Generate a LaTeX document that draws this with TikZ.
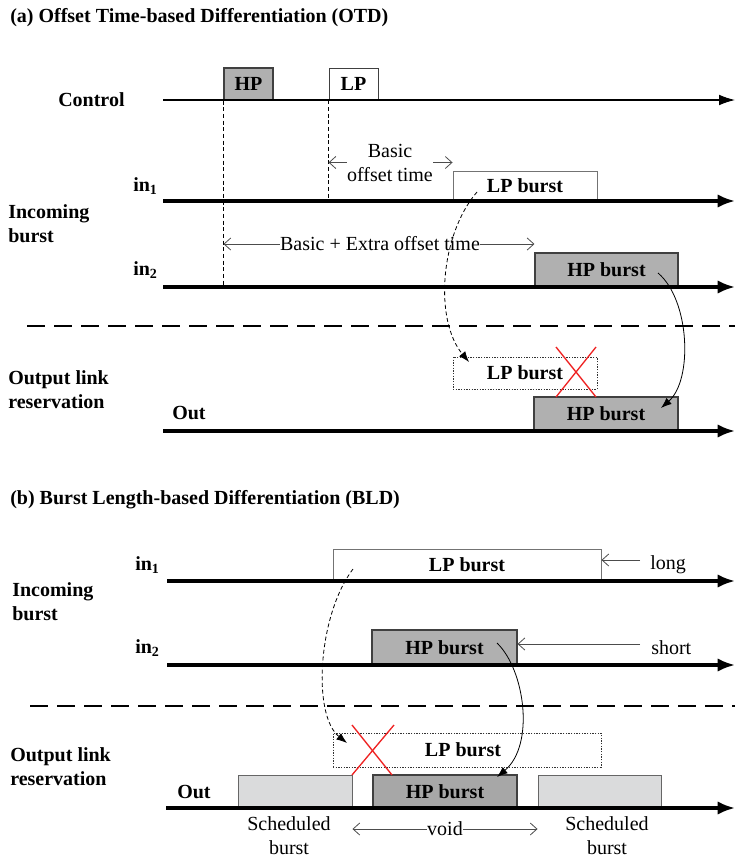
\documentclass[tikz,border=0pt]{standalone}
\usepackage{fontspec}
\setmainfont{Liberation Serif}
\usetikzlibrary{arrows.meta}
\definecolor{hpgray}{HTML}{B0B0B0}
\definecolor{schgray}{HTML}{DADBDC}
\definecolor{redx}{HTML}{EE2222}
\begin{document}
\begin{tikzpicture}[x=0.75pt,y=-0.75pt,
  every node/.style={font=\fontsize{15}{18}\selectfont, inner sep=0pt},
  lbl/.style={font=\fontsize{15}{18}\selectfont\bfseries, anchor=west, align=left},
  txt/.style={font=\fontsize{15}{18}\selectfont, align=center},
  timeline/.style={line width=2.3pt, -{Latex[length=13pt,width=10pt]}},
  ctrlline/.style={line width=0.8pt, -{Latex[length=12pt,width=8pt]}},
  hpbox/.style={draw=black!75, fill=hpgray, line width=0.8pt, font=\fontsize{15}{18}\selectfont\bfseries},
  lpbox/.style={draw=black!55, fill=white, line width=0.7pt, font=\fontsize{15}{18}\selectfont\bfseries},
  schbox/.style={draw=black!60, fill=schgray, line width=0.7pt},
  dotbox/.style={draw=black!80, dash pattern=on 1pt off 1pt, line width=0.6pt, font=\fontsize{15}{18}\selectfont\bfseries},
  vdash/.style={draw=black, line width=0.7pt, dash pattern=on 3pt off 2pt},
  sep/.style={draw=black, line width=1.5pt, dash pattern=on 13.5pt off 6.75pt},
  dim/.style={draw=black!70, line width=0.6pt, -{Straight Barb[length=5pt,width=9pt]}},
  curvearr/.style={line width=0.6pt, -{Latex[length=8pt,width=6pt]}},
  xline/.style={draw=redx, line width=1pt}
]
\useasboundingbox (0,0) rectangle (735,860);

% ================= (a) =================
\node[lbl] (tA) at (10,18) {(a) Offset Time-based Differentiation (OTD)};

\node[lbl] (lControl) at (58,100) {Control};
\node[lbl] (lin1a) at (133,186) {in\textsubscript{1}};
\node[lbl] (lin2a) at (133,270) {in\textsubscript{2}};
\node[lbl] (lIncA) at (8,224) {Incoming\\burst};
\node[lbl] (lOutLA) at (8,390) {Output link\\reservation};
\node[lbl] (lOutA) at (172,413) {Out};

% timelines
\coordinate (ctrlS) at (163,100); \coordinate (ctrlE) at (735,100);
\coordinate (in1aS) at (163,201); \coordinate (in1aE) at (735,201);
\coordinate (in2aS) at (163,287); \coordinate (in2aE) at (735,287);
\coordinate (outaS) at (163,431); \coordinate (outaE) at (735,431);

% boxes
\node[hpbox, minimum width=36.75pt, minimum height=24pt] (hpc) at (248.5,84) {HP};
\node[lpbox, draw=black!75, minimum width=36.75pt, minimum height=24pt] (lpc) at (353.5,84) {LP};
\node[lpbox, minimum width=108pt, minimum height=22.5pt] (lpa) at (525,186) {LP burst};
\node[hpbox, minimum width=107.25pt, minimum height=25.5pt] (hpa) at (606.5,270) {HP burst};
\node[dotbox, minimum width=108pt, minimum height=24pt] (lpoa) at (525,373) {LP burst};
\node[hpbox, minimum width=108pt, minimum height=25.5pt] (hpoa) at (606,414) {HP burst};

\draw[ctrlline] (ctrlS) -- (ctrlE);
\draw[timeline] (in1aS) -- (in1aE);
\draw[timeline] (in2aS) -- (in2aE);
\draw[timeline] (outaS) -- (outaE);

% dashed verticals
\draw[vdash] (hpc.south west) -- (hpc.south west |- in2aS);
\draw[vdash] (lpc.south west) -- (lpc.south west |- in1aS);

% offset labels
\node[txt] (basic) at (390,162.5) {Basic\\offset time};
\draw[dim] (basic.west) -- (basic.west -| lpc.west);
\draw[dim] (basic.east) -- (basic.east -| lpa.west);

\node[txt] (extra) at (380,244) {Basic + Extra offset time};
\draw[dim] (extra.west) -- (extra.west -| hpc.west);
\draw[dim] (extra.east) -- (extra.east -| hpa.west);

% separator
\coordinate (sepaS) at (27,326); \coordinate (sepaE) at (735,326);
\draw[sep] (sepaS) -- (sepaE);

% curves
\coordinate (la1) at (477,192); \coordinate (la2) at (469,362);
\draw[curvearr, dash pattern=on 3pt off 2pt] (la1) .. controls (440,235) and (434,320) .. (la2);
\coordinate (ha1) at (658,273); \coordinate (ha2) at (661,408);
\draw[curvearr] (ha1) .. controls (690,300) and (693,380) .. (ha2);

% red X
\coordinate (xa1) at (556,347); \coordinate (xa2) at (596,397);
\coordinate (xa3) at (596,347); \coordinate (xa4) at (556,397);
\draw[xline] (xa1) -- (xa2);
\draw[xline] (xa3) -- (xa4);

% ================= (b) =================
\node[lbl] (tB) at (10,500) {(b) Burst Length-based Differentiation (BLD)};

\node[lbl] (lin1b) at (135,565) {in\textsubscript{1}};
\node[lbl] (lin2b) at (135,648) {in\textsubscript{2}};
\node[lbl] (lIncB) at (12,601.5) {Incoming\\burst};
\node[lbl] (lOutLB) at (10,766.5) {Output link\\reservation};
\node[lbl] (lOutB) at (177,792) {Out};

\coordinate (in1bS) at (167,581); \coordinate (in1bE) at (735,581);
\coordinate (in2bS) at (167,665); \coordinate (in2bE) at (735,665);
\coordinate (outbS) at (166,808); \coordinate (outbE) at (735,808);

\node[lpbox, minimum width=201pt, minimum height=24pt] (lpb) at (467,565) {LP burst};
\node[hpbox, minimum width=108.75pt, minimum height=26.25pt] (hpb) at (444.5,647.5) {HP burst};
\node[dotbox, minimum width=201pt, minimum height=25.5pt] (lpob) at (467,750) {\hspace*{-6pt}LP burst};
\node[schbox, minimum width=85.5pt, minimum height=24.75pt] (sch1) at (295,791.5) {};
\node[hpbox, fill=hpgray!95!black, minimum width=108pt, minimum height=24.75pt] (hpob) at (445,791.5) {HP burst};
\node[schbox, minimum width=92.25pt, minimum height=24.75pt] (sch2) at (599.5,791.5) {};

\draw[timeline] (in1bS) -- (in1bE);
\draw[timeline] (in2bS) -- (in2bE);
\draw[timeline] (outbS) -- (outbE);

% long / short
\node[txt, anchor=west] (long) at (650,565) {long};
\coordinate (longS) at (640,560);
\draw[dim] (longS) -- (longS -| lpb.east);
\node[txt, anchor=west] (short) at (651,648) {short};
\coordinate (shortS) at (640,644);
\draw[dim] (shortS) -- (shortS -| hpb.east);

% separator
\coordinate (sepbS) at (30,706); \coordinate (sepbE) at (735,706);
\draw[sep] (sepbS) -- (sepbE);

% curves
\coordinate (lb1) at (353,569); \coordinate (lb2) at (347,743);
\draw[curvearr, dash pattern=on 3pt off 2pt] (lb1) .. controls (318,615) and (312,715) .. (lb2);
\coordinate (hb1) at (497,643); \coordinate (hb2) at (497,777);
\draw[curvearr] (hb1) .. controls (525,670) and (535,745) .. (hb2);

% red X
\coordinate (xb1) at (352,775); \coordinate (xb2) at (394,725);
\coordinate (xb3) at (352,725); \coordinate (xb4) at (392,775);
\draw[xline] (xb1) -- (xb2);
\draw[xline] (xb3) -- (xb4);

% bottom labels
\node[txt] (sl1) at (289,836) {Scheduled\\burst};
\node[txt] (sl2) at (607,836) {Scheduled\\burst};
\node[txt] (void) at (445,829) {void};
\draw[dim] (void.west) -- (void.west -| sch1.east);
\draw[dim] (void.east) -- (void.east -| sch2.west);
\end{tikzpicture}
\end{document}
